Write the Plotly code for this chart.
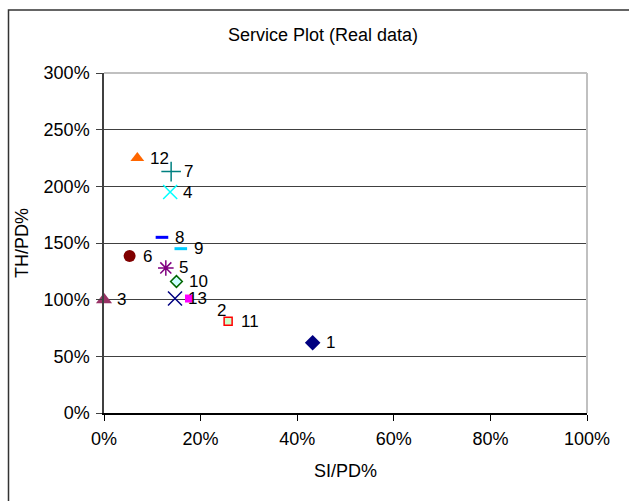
import plotly.graph_objects as go

# ---- data ----
labels = ["1", "2", "3", "4", "5", "6", "7", "8", "9", "10", "11", "12", "13"]
si_pd = [0.432, 0.176, 0.0, 0.137, 0.128, 0.053, 0.139, 0.120, 0.159, 0.150, 0.257, 0.069, 0.147]
th_pd = [0.62, 1.01, 1.00, 1.95, 1.28, 1.385, 2.13, 1.55, 1.45, 1.16, 0.81, 2.25, 1.01]

x_ticks = [0, 0.2, 0.4, 0.6, 0.8, 1.0]
y_ticks = [0, 0.5, 1.0, 1.5, 2.0, 2.5, 3.0]

# ---- styles ----
symbols = ["diamond", "square", "triangle-up", "x-thin-open", "asterisk-open", "circle",
           "cross-thin-open", "line-ew", "line-ew", "diamond", "square", "triangle-up", "x-thin-open"]
fills = ["#000080", "#FF00FF", "#993366", "#00FFFF", "#800080", "#800000",
         "#008080", "#0000FF", "#00CCFF", "#CCFFFF", "#CCFFCC", "#FF6600", "#000080"]
edges = ["#000080", "#FF00FF", "#993366", "#00FFFF", "#800080", "#800000",
         "#008080", "#0000FF", "#00CCFF", "#006600", "#FF0000", "#FF6600", "#000080"]
sizes = [12, 8, 14, 14, 13, 12, 14, 9, 9, 9, 8, 12, 14]
edge_w = [0, 0, 0, 1.5, 1.5, 0, 1.5, 3, 3, 1.5, 1.5, 0, 1.5]
label_shift = {"2": (15, -12)}

W, H = 629, 501
L, R, T, B = 104, 42, 73, 88
PW, PH = W - L - R, H - T - B
FONT = "Liberation Sans, Arial, sans-serif"

fig = go.Figure()
for i in range(len(labels)):
    fig.add_trace(go.Scatter(
        x=[si_pd[i]], y=[th_pd[i]], mode="markers",
        marker=dict(symbol=symbols[i], size=sizes[i], color=fills[i],
                    line=dict(color=edges[i], width=edge_w[i])),
        showlegend=False, cliponaxis=False, hoverinfo="skip"))
    dx, dy = label_shift.get(labels[i], (0, 0))
    fig.add_annotation(x=si_pd[i], y=th_pd[i], text=labels[i], showarrow=False,
                       xanchor="left", yanchor="middle", xshift=11 + dx, yshift=dy,
                       font=dict(family=FONT, size=17, color="black"))


def px2paper_x(px):
    return (px - L) / PW


def px2paper_y(py):
    return (H - B - py) / PH


shapes = [
    # plot area border (top & right)
    dict(type="line", xref="paper", yref="paper", x0=0, x1=1, y0=1, y1=1,
         line=dict(color="#C0C0C0", width=2), layer="above"),
    dict(type="line", xref="paper", yref="paper", x0=1, x1=1, y0=0, y1=1,
         line=dict(color="#C0C0C0", width=2), layer="above"),
    # chart frame
    dict(type="rect", xref="paper", yref="paper",
         x0=px2paper_x(8.5), x1=px2paper_x(660), y0=px2paper_y(530), y1=px2paper_y(10),
         line=dict(color="#333333", width=1.5), layer="below"),
]

fig.update_layout(
    width=W, height=H,
    margin=dict(l=L, r=R, t=T, b=B),
    paper_bgcolor="white", plot_bgcolor="white",
    font=dict(family=FONT, size=18, color="black"),
    title=dict(text="Service Plot (Real data)", x=323 / W, xanchor="center",
               y=1 - 35 / H, yanchor="middle", yref="container",
               font=dict(family=FONT, size=18, color="black")),
    shapes=shapes,
)
fig.update_xaxes(range=[0, 1], tickvals=x_ticks, tickformat=".0%",
                 showgrid=False, zeroline=False,
                 showline=True, linecolor="black", linewidth=1.5,
                 ticks="outside", ticklen=6, tickcolor="black", tickwidth=1,
                 ticklabelstandoff=3,
                 title=dict(text="SI/PD%", standoff=16, font=dict(size=18)))
fig.update_yaxes(range=[0, 3], tickvals=y_ticks, tickformat=".0%",
                 showgrid=True, gridcolor="#404040", gridwidth=1, zeroline=False,
                 showline=True, linecolor="#404040", linewidth=1.5,
                 ticks="outside", ticklen=6, tickcolor="#404040", tickwidth=1,
                 ticklabelstandoff=3,
                 title=dict(text="TH/PD%", standoff=10, font=dict(size=18)))

fig.write_html("out.html")
